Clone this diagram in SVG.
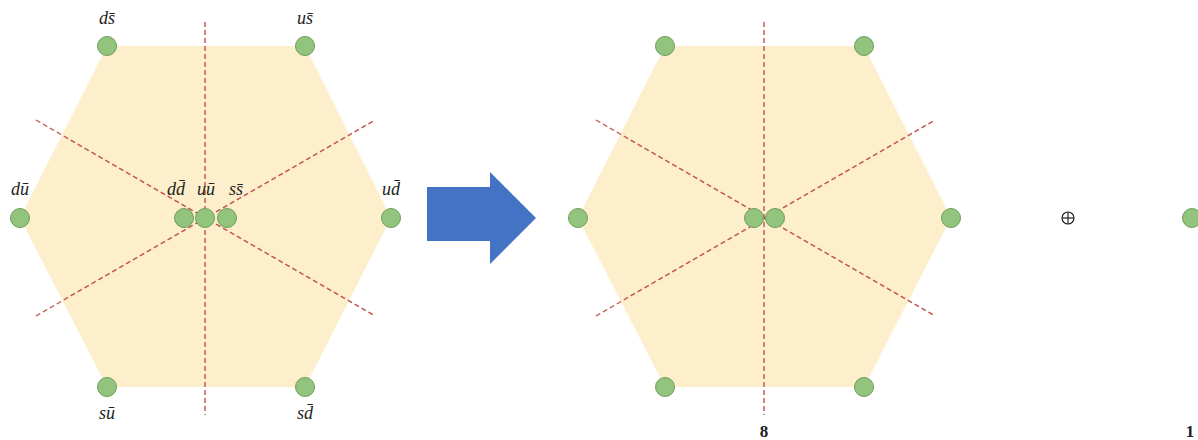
<svg xmlns="http://www.w3.org/2000/svg" width="1198" height="440" viewBox="0 0 1198 440">
<style>
.hex{fill:#FDEFCB;stroke:none}
.dash{stroke:#C0504D;stroke-width:1.4;stroke-dasharray:5,3;fill:none}
.pt{fill:#93C47D;stroke:#6E9E5A;stroke-width:1}
.lbl{font-family:"Liberation Serif",serif;font-style:italic;font-size:18px;fill:#222;text-anchor:middle}
.num{font-family:"Liberation Serif",serif;font-weight:bold;font-size:17px;fill:#222;text-anchor:middle}
</style>
<rect width="1198" height="440" fill="#fff"/>
<g id="hexLeft"><polygon class="hex" points="107,46 305,46 391,218 305,387 107,387 20,218"/></g>
<g id="hexRight"><polygon class="hex" points="665,46 864,46 951,218 864,387 665,387 578,218"/></g>
<g id="connectors">
<line class="dash" x1="205" y1="22" x2="205" y2="415"/>
<line class="dash" x1="36" y1="120" x2="375" y2="316"/>
<line class="dash" x1="36" y1="316" x2="375" y2="120"/>
<line class="dash" x1="764" y1="22" x2="764" y2="415"/>
<line class="dash" x1="596" y1="120" x2="935" y2="316"/>
<line class="dash" x1="596" y1="316" x2="935" y2="120"/>
</g>
<g id="arrow"><polygon points="427,187 490,187 490,172 536,218 490,264 490,241 427,241" fill="#4472C4"/></g>
<g id="n-ds"><circle class="pt" cx="107" cy="46" r="9.5"/><text class="lbl" x="107" y="24">ds̄</text></g>
<g id="n-us"><circle class="pt" cx="305" cy="46" r="9.5"/><text class="lbl" x="305" y="24">us̄</text></g>
<g id="n-du"><circle class="pt" cx="20" cy="218" r="9.5"/><text class="lbl" x="20" y="195">dū</text></g>
<g id="n-ud"><circle class="pt" cx="391" cy="218" r="9.5"/><text class="lbl" x="391" y="195">ud̄</text></g>
<g id="n-su"><circle class="pt" cx="107" cy="387" r="9.5"/><text class="lbl" x="107" y="419">sū</text></g>
<g id="n-sd"><circle class="pt" cx="305" cy="387" r="9.5"/><text class="lbl" x="305" y="419">sd̄</text></g>
<g id="n-dd"><circle class="pt" cx="184" cy="218" r="9.5"/><text class="lbl" x="176" y="195">dd̄</text></g>
<g id="n-uu"><circle class="pt" cx="205" cy="218" r="9.5"/><text class="lbl" x="206" y="195">uū</text></g>
<g id="n-ss"><circle class="pt" cx="227" cy="218" r="9.5"/><text class="lbl" x="236" y="195">ss̄</text></g>
<g id="r1"><circle class="pt" cx="665" cy="46" r="9.5"/></g>
<g id="r2"><circle class="pt" cx="864" cy="46" r="9.5"/></g>
<g id="r3"><circle class="pt" cx="578" cy="218" r="9.5"/></g>
<g id="r4"><circle class="pt" cx="951" cy="218" r="9.5"/></g>
<g id="r5"><circle class="pt" cx="665" cy="387" r="9.5"/></g>
<g id="r6"><circle class="pt" cx="864" cy="387" r="9.5"/></g>
<g id="r7"><circle class="pt" cx="754" cy="218" r="9.5"/></g>
<g id="r8"><circle class="pt" cx="775" cy="218" r="9.5"/></g>
<g id="label8"><text class="num" x="764" y="437">8</text></g>
<g id="oplus"><circle cx="1068" cy="218" r="6" fill="none" stroke="#222" stroke-width="1.2"/><line x1="1062" y1="218" x2="1074" y2="218" stroke="#222" stroke-width="1.2"/><line x1="1068" y1="212" x2="1068" y2="224" stroke="#222" stroke-width="1.2"/></g>
<g id="singlet"><circle class="pt" cx="1192" cy="218" r="9.5"/></g>
<g id="label1"><text class="num" x="1190" y="437">1</text></g>
</svg>
